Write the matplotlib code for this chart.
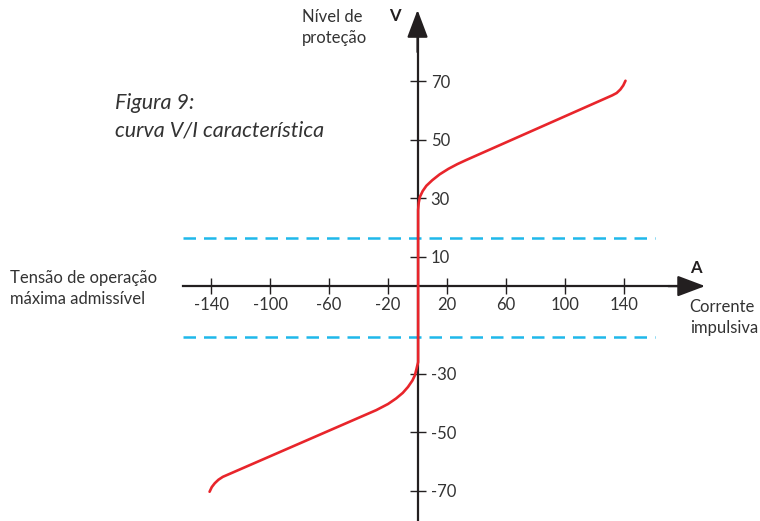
import matplotlib
matplotlib.use("Agg")
import matplotlib.pyplot as plt

plt.rcParams['font.family'] = ['Lato', 'DejaVu Sans']

# curve (corrente, tensao)
upper_i = [0.4, 0.4, 0.8, 1.6, 3.5, 6.0, 10.0, 15.0, 21.0, 27.0, 33.0, 132.0, 135.0, 137.5, 139.5, 141.0]
upper_v = [0.0, 26.0, 28.5, 30.5, 32.5, 34.3, 36.2, 38.2, 40.1, 41.7, 43.1, 65.2, 66.0, 67.2, 68.6, 70.2]
lower_i = [0.4, 0.4, -0.8, -1.8, -3.5, -6.5, -10.0, -14.5, -20.0, -28.0, -132.0, -135.0, -137.5, -139.5, -141.0]
lower_v = [0.0, -26.0, -28.5, -30.5, -32.3, -34.5, -36.5, -38.4, -40.3, -42.4, -65.2, -66.2, -67.4, -68.7, -70.3]

limite_sup = 16.5
limite_inf = -17.5

xticks = [-140, -100, -60, -20, 20, 60, 100, 140]
yticks = [70, 50, 30, 10, -30, -50, -70]

ink = '#231f20'
red = '#e8252b'
cyan = '#1fb8ea'

fig = plt.figure(figsize=(7.6, 5.21), dpi=100)
ax = fig.add_axes([0, 0, 1, 1])
ax.set_xlim(-283.1, 232.2)
ax.set_ylim(-80.3, 97.8)

# axes through the origin
for s in ['top', 'left']:
    ax.spines[s].set_visible(False)
ax.spines['bottom'].set_position(('data', 0))
ax.spines['right'].set_position(('data', 0))
ax.spines['bottom'].set_bounds(-159, 185)
ax.spines['right'].set_bounds(-80.3, 85)
for s in ['bottom', 'right']:
    ax.spines[s].set_color(ink)
    ax.spines[s].set_linewidth(1.6)
ax.xaxis.set_ticks_position('bottom')
ax.yaxis.set_ticks_position('right')
ax.set_xticks(xticks)
ax.set_yticks(yticks)
ax.set_xticklabels([str(t) for t in xticks])
ax.set_yticklabels([str(t) for t in yticks])
ax.tick_params(axis='both', direction='inout', length=11, width=1.0,
               color=ink, labelcolor='#333333', labelsize=12)
ax.tick_params(axis='x', pad=2)
ax.tick_params(axis='y', pad=4)
ax.set_facecolor('white')

# arrow heads
ax.annotate('', xy=(195, 0), xytext=(170, 0),
            arrowprops=dict(arrowstyle='-|>,head_length=0.85,head_width=0.32',
                            mutation_scale=20, color=ink, lw=1.6, shrinkA=0, shrinkB=0))
ax.annotate('', xy=(0, 94.4), xytext=(0, 80),
            arrowprops=dict(arrowstyle='-|>,head_length=0.85,head_width=0.32',
                            mutation_scale=20, color=ink, lw=1.6, shrinkA=0, shrinkB=0))

# tension limits
for lim in [limite_sup, limite_inf]:
    ax.plot([-159, 161], [lim, lim], color=cyan, lw=1.8, dashes=(5, 3.2), zorder=2)

ax.plot(upper_i, upper_v, color=red, lw=1.9, solid_capstyle='round', zorder=3)
ax.plot(lower_i, lower_v, color=red, lw=1.9, solid_capstyle='round', zorder=3)

txt = dict(color='#333333', fontsize=12, linespacing=1.4)
ax.text(-78.6, 94.8, 'Nível de\nproteção', ha='left', va='top', **txt)
ax.text(-15.5, 92.5, 'V', ha='center', va='center', fontweight='bold', color=ink, fontsize=12)
ax.text(189, 6.3, 'A', ha='center', va='center', fontweight='bold', color=ink, fontsize=12)
ax.text(184.5, -4.5, 'Corrente\nimpulsiva', ha='left', va='top', **txt)
ax.text(-276.6, 5.6, 'Tensão de operação\nmáxima admissível', ha='left', va='top', **txt)
ax.text(-205.4, 66.0, 'Figura 9:\ncurva V/I característica', ha='left', va='top',
        style='italic', color='#333333', fontsize=15.5, linespacing=1.45)

fig.savefig('out.png', dpi=100, facecolor='white')
